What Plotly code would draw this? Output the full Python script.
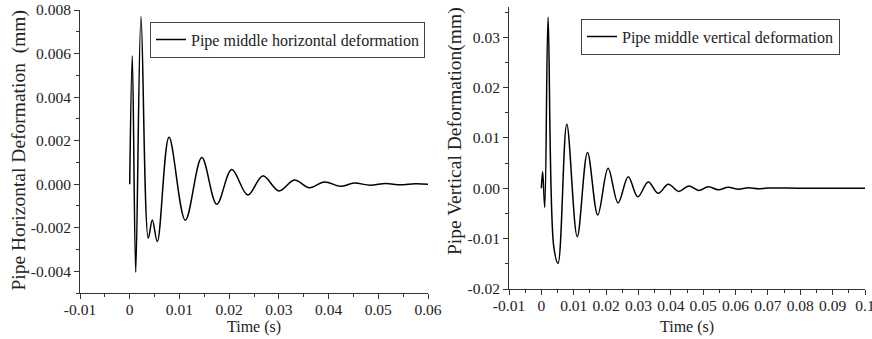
import plotly.graph_objects as go

# ---------------- data ----------------
# Left: pipe middle horizontal deformation (mm) vs time (s)
h_time = [0, 0.00052, 0.00121, 0.00227, 0.00374, 0.00455, 0.00555, 0.00791, 0.01119,
          0.01449, 0.01751, 0.02052, 0.02374, 0.02676, 0.03004, 0.03312, 0.03614,
          0.03915, 0.04245, 0.04513, 0.04835, 0.05151, 0.0544, 0.0574, 0.06]
h_defo = [0, 0.0059, -0.00405, 0.0077, -0.00248, -0.00165, -0.00264, 0.00215, -0.00166,
          0.00122, -0.00092, 0.00067, -0.0005, 0.00038, -0.00031, 0.00019, -0.00016,
          0.0001, -0.0001, 0.00005, -0.00005, 0.00003, -0.00003, 0.00002, 0]

# Right: pipe middle vertical deformation (mm) vs time (s)
v_time = [0, 0.0004, 0.00105, 0.00207, 0.00383, 0.00516, 0.00785, 0.01109, 0.01425,
          0.01743, 0.02061, 0.0237, 0.02685, 0.02979, 0.03303, 0.03612, 0.03921,
          0.04246, 0.04555, 0.04864, 0.05158, 0.05467, 0.05776, 0.06085, 0.06394,
          0.067, 0.07, 0.08, 0.09, 0.1]
v_defo = [0, 0.0033, -0.0038, 0.034, -0.0116, -0.0149, 0.0127, -0.0096, 0.0071,
          -0.0053, 0.0040, -0.0029, 0.0023, -0.0017, 0.00125, -0.0010, 0.0008,
          -0.00062, 0.00046, -0.00044, 0.00032, -0.0003, 0.0002, -0.00018, 0.0001,
          -0.0001, 0.00005, 0, 0, 0]

# tick labels
lx_vals = [-0.01, 0, 0.01, 0.02, 0.03, 0.04, 0.05, 0.06]
lx_text = ["-0.01", "0", "0.01", "0.02", "0.03", "0.04", "0.05", "0.06"]
ly_vals = [-0.004, -0.002, 0.0, 0.002, 0.004, 0.006, 0.008]
ly_text = ["-0.004", "-0.002", "0.000", "0.002", "0.004", "0.006", "0.008"]
rx_vals = [-0.01, 0, 0.01, 0.02, 0.03, 0.04, 0.05, 0.06, 0.07, 0.08, 0.09, 0.1]
rx_text = ["-0.01", "0", "0.01", "0.02", "0.03", "0.04", "0.05", "0.06", "0.07", "0.08", "0.09", "0.1"]
ry_vals = [-0.02, -0.01, 0.0, 0.01, 0.02, 0.03]
ry_text = ["-0.02", "-0.01", "0.00", "0.01", "0.02", "0.03"]

FONT = "'Liberation Serif', 'Times New Roman', Times, serif"
TXT = "#222222"
W, H = 872, 339

fig = go.Figure()
fig.add_trace(go.Scatter(x=h_time, y=h_defo, mode="lines",
                         line=dict(color="black", width=1.5, shape="spline", smoothing=1.0),
                         name="Pipe middle horizontal deformation",
                         xaxis="x", yaxis="y", legend="legend"))
fig.add_trace(go.Scatter(x=v_time, y=v_defo, mode="lines",
                         line=dict(color="black", width=1.5, shape="spline", smoothing=1.0),
                         name="Pipe middle vertical deformation",
                         xaxis="x2", yaxis="y2", legend="legend2"))

axis_common = dict(showgrid=False, zeroline=False, showline=True, linecolor="#333333",
                   linewidth=1, ticks="outside", ticklen=5, tickcolor="#333333",
                   automargin=False, ticklabeloverflow="allow",
                   tickfont=dict(family=FONT, size=15.5, color=TXT), tickmode="array")

fig.update_layout(
    width=W, height=H,
    margin=dict(l=0, r=0, t=0, b=0, autoexpand=False),
    font=dict(family=FONT, color=TXT),
    plot_bgcolor="white", paper_bgcolor="white",
    showlegend=True,
    xaxis=dict(domain=[80 / W, 428 / W], range=[-0.01, 0.06], anchor="y",
               tickvals=lx_vals, ticktext=lx_text, ticklabelstandoff=-3,
               minor=dict(ticks="outside", ticklen=3, dtick=0.005, tick0=0, tickcolor="#333333"),
               **axis_common),
    yaxis=dict(domain=[1 - 293 / H, 1 - 10 / H], range=[-0.005, 0.008], anchor="x",
               tickvals=ly_vals, ticktext=ly_text,
               minor=dict(ticks="outside", ticklen=3, dtick=0.001, tick0=0, tickcolor="#333333"),
               **axis_common),
    xaxis2=dict(domain=[509 / W, 865 / W], range=[-0.01, 0.1], anchor="y2",
                tickvals=rx_vals, ticktext=rx_text, ticklabelstandoff=-3,
                minor=dict(ticks="outside", ticklen=3, dtick=0.005, tick0=0, tickcolor="#333333"),
                **axis_common),
    yaxis2=dict(domain=[1 - 289 / H, 1 - 7 / H], range=[-0.02, 0.036], anchor="x2",
                tickvals=ry_vals, ticktext=ry_text,
                minor=dict(ticks="outside", ticklen=3, dtick=0.005, tick0=0, tickcolor="#333333"),
                **axis_common),
    legend=dict(x=150 / W, y=1 - 39.5 / H, xanchor="left", yanchor="middle",
                bordercolor="#444444", borderwidth=1, bgcolor="white",
                font=dict(family=FONT, size=16, color=TXT),
                tracegroupgap=0, itemwidth=30),
    legend2=dict(x=581 / W, y=1 - 36.5 / H, xanchor="left", yanchor="middle",
                 bordercolor="#444444", borderwidth=1, bgcolor="white",
                 font=dict(family=FONT, size=16, color=TXT),
                 tracegroupgap=0, itemwidth=30),
)

annotations = [
    dict(text="Time (s)", x=(80 + 428) / 2 / W, y=1 - 327 / H, xref="paper", yref="paper",
         showarrow=False, font=dict(family=FONT, size=16, color=TXT), xanchor="center", yanchor="middle"),
    dict(text="Time (s)", x=(509 + 865) / 2 / W, y=1 - 327 / H, xref="paper", yref="paper",
         showarrow=False, font=dict(family=FONT, size=16, color=TXT), xanchor="center", yanchor="middle"),
    dict(text="Pipe Horizontal Deformation\u00a0\u00a0(mm)", x=18.5 / W, y=1 - 150 / H,
         xref="paper", yref="paper", showarrow=False, textangle=-90,
         font=dict(family=FONT, size=19.5, color=TXT), xanchor="center", yanchor="middle"),
    dict(text="Pipe Vertical Deformation(mm)", x=454.5 / W, y=1 - 131.5 / H,
         xref="paper", yref="paper", showarrow=False, textangle=-90,
         font=dict(family=FONT, size=19.5, color=TXT), xanchor="center", yanchor="middle"),
]
fig.update_layout(annotations=annotations)

fig.write_html("out.html")
